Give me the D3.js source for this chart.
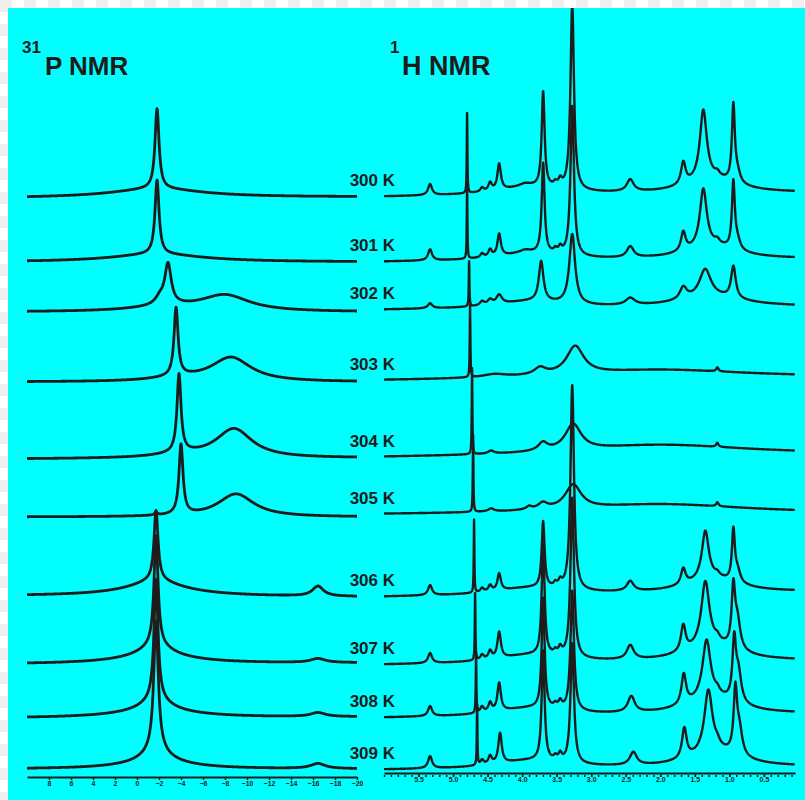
<!DOCTYPE html>
<html>
<head>
<meta charset="utf-8">
<script src="https://cdn.jsdelivr.net/npm/d3@7"></script>
<style>
  body { margin: 0; background: #fff; }
  text { font-family: "Liberation Sans", Arial, sans-serif; font-weight: bold; fill: #1e1b1b; }
</style>
</head>
<body>
<script>
// temperatures of the stacked spectra
let temps = [300, 301, 302, 303, 304, 305, 306, 307, 308, 309];

// axis tick labels (ppm)
let pTicks = [8, 6, 4, 2, 0, -2, -4, -6, -8, -10, -12, -14, -16, -18, -20];
let hTicks = [5.5, 5.0, 4.5, 4.0, 3.5, 3.0, 2.5, 2.0, 1.5, 1.0, 0.5];

// 31P spectra: baseline intensity [low-field end, high-field end], a.u.
let pBase = [[602, 603], [538, 538], [488, 488], [418, 418], [341, 342],
             [283, 283], [204, 203], [136, 137], [82, 83], [31, 31]];
// 31P peaks: [shift ppm, height a.u., half width ppm]
let pPeaks = [
  [[-1.82, 80, 0.22], [-1.82, 9, 5]],
  [[-1.82, 74, 0.22], [-1.82, 8, 5]],
  [[-2.82, 40, 0.35], [-2.09, 7, 0.5], [-8.0, 16, 2.7], [-2.5, 4, 4]],
  [[-3.55, 68, 0.22], [-8.55, 24, 2.2], [-3.8, 3, 3]],
  [[-3.82, 78, 0.22], [-8.82, 29, 2.0], [-4.0, 3, 3]],
  [[-4.0, 70, 0.22], [-9.0, 23, 2.0], [-1.73, 3, 0.15]],
  [[-1.73, 70, 0.22], [-1.73, 10, 2.5], [-1.73, 6, 5], [-16.45, 10, 0.6]],
  [[-1.73, 110, 0.22], [-1.73, 12, 1.8], [-1.73, 6, 4.5], [-16.45, 4, 0.8]],
  [[-1.73, 120, 0.22], [-1.73, 12, 1.6], [-1.73, 6, 4.5], [-16.45, 4, 0.8]],
  [[-1.73, 130, 0.25], [-1.73, 12, 1.5], [-1.73, 6, 4], [-16.45, 5, 0.8]]
];

// 1H spectra
let hBase = [[603, 607], [538, 541], [490, 493], [419, 422], [342, 345],
             [285, 286], [203, 208], [135, 139], [82, 86], [30, 33]];
let hPeaks = [
  [[5.333, 11, 0.035], [4.797, 80, 0.005], [4.58, 4, 0.03], [4.464, 8, 0.03], [4.333, 26, 0.03],
   [3.957, 3, 0.1], [3.696, 95, 0.025], [3.52, 4, 0.03], [3.449, 7, 0.03], [3.275, 185, 0.03],
   [2.435, 12, 0.06], [1.667, 22, 0.04], [1.377, 70, 0.06], [1.174, 4, 0.04], [0.942, 76, 0.025],
   [0.884, 10, 0.05], [3.9, 8, 0.6], [1.25, 14, 0.45]],
  [[5.333, 11, 0.035], [4.797, 75, 0.005], [4.58, 4, 0.03], [4.464, 7, 0.03], [4.333, 22, 0.03],
   [3.957, 3, 0.1], [3.696, 90, 0.025], [3.52, 4, 0.03], [3.449, 6, 0.03], [3.275, 150, 0.03],
   [2.435, 11, 0.06], [1.667, 19, 0.04], [1.377, 58, 0.06], [1.174, 4, 0.04], [0.942, 66, 0.025],
   [0.884, 9, 0.05], [3.9, 7, 0.6], [1.25, 13, 0.45]],
  [[5.333, 5, 0.04], [4.768, 45, 0.005], [4.58, 4, 0.04], [4.464, 5, 0.04], [4.333, 9, 0.05],
   [3.725, 40, 0.04], [3.275, 70, 0.05], [2.435, 7, 0.08], [1.667, 12, 0.06], [1.35, 28, 0.1],
   [0.942, 32, 0.04], [3.9, 7, 0.6], [1.25, 10, 0.6]],
  [[4.754, 72, 0.005], [4.4, 3, 0.2], [3.74, 7, 0.1], [3.232, 28, 0.15], [1.174, 4, 0.02],
   [2.0, 9, 1.6]],
  [[4.725, 86, 0.005], [4.45, 3, 0.05], [3.7, 8, 0.08], [3.261, 26, 0.14], [1.174, 4, 0.02],
   [2.0, 11, 1.6]],
  [[4.71, 77, 0.005], [4.45, 3, 0.05], [3.9, 3, 0.05], [3.7, 6, 0.08], [3.261, 24, 0.14],
   [1.174, 4, 0.02], [2.0, 10, 1.6]],
  [[5.333, 10, 0.035], [4.696, 73, 0.005], [4.58, 4, 0.03], [4.464, 6, 0.03], [4.333, 17, 0.03],
   [3.696, 66, 0.025], [3.52, 4, 0.03], [3.449, 6, 0.03], [3.275, 205, 0.03], [2.435, 10, 0.06],
   [1.667, 16, 0.04], [1.348, 48, 0.06], [1.174, 3, 0.04], [0.942, 50, 0.025], [0.884, 12, 0.05],
   [3.9, 7, 0.6], [1.25, 14, 0.45]],
  [[5.333, 10, 0.035], [4.681, 67, 0.005], [4.58, 5, 0.03], [4.464, 8, 0.03], [4.333, 26, 0.03],
   [3.696, 110, 0.025], [3.52, 4, 0.03], [3.449, 7, 0.03], [3.275, 160, 0.03], [2.435, 14, 0.06],
   [1.667, 26, 0.04], [1.348, 64, 0.07], [1.174, 4, 0.04], [0.942, 58, 0.03], [0.884, 28, 0.05],
   [3.9, 8, 0.6], [1.25, 16, 0.45]],
  [[5.333, 10, 0.035], [4.667, 60, 0.005], [4.58, 6, 0.03], [4.464, 9, 0.03], [4.333, 28, 0.03],
   [3.696, 110, 0.025], [3.52, 4, 0.03], [3.449, 7, 0.03], [3.275, 120, 0.03], [2.42, 16, 0.06],
   [1.66, 30, 0.04], [1.33, 58, 0.07], [1.174, 4, 0.04], [0.93, 58, 0.03], [0.87, 30, 0.05],
   [3.9, 8, 0.6], [1.25, 16, 0.45]],
  [[5.333, 12, 0.035], [4.652, 60, 0.005], [4.58, 5, 0.03], [4.464, 8, 0.03], [4.32, 30, 0.03],
   [3.696, 110, 0.025], [3.52, 4, 0.03], [3.449, 7, 0.03], [3.275, 120, 0.03], [2.39, 13, 0.06],
   [1.652, 30, 0.04], [1.304, 62, 0.07], [1.174, 4, 0.04], [0.913, 62, 0.03], [0.855, 25, 0.05],
   [3.9, 8, 0.6], [1.2, 15, 0.45]]
];

let width = 805, height = 800;

let svg = d3.select('body').append('svg')
    .attr('width', width)
    .attr('height', height);

// transparent-looking border + cyan sheet
let defs = svg.append('defs');
let pat = defs.append('pattern').attr('id', 'chk')
    .attr('width', 24).attr('height', 24).attr('patternUnits', 'userSpaceOnUse');
pat.append('rect').attr('width', 24).attr('height', 24).attr('fill', '#ffffff');
pat.append('rect').attr('width', 12).attr('height', 12).attr('fill', '#efefef');
pat.append('rect').attr('x', 12).attr('y', 12).attr('width', 12).attr('height', 12).attr('fill', '#efefef');
svg.append('rect').attr('width', width).attr('height', height).attr('fill', 'url(#chk)');
svg.append('rect').attr('x', 8).attr('y', 8)
    .attr('width', width - 8).attr('height', height - 8).attr('fill', '#00ffff');
defs.append('clipPath').attr('id', 'clip').append('rect')
    .attr('x', 8).attr('y', 8).attr('width', width - 8).attr('height', height - 8);

let xP = d3.scaleLinear().domain([10, -20]).range([27, 357]);
let xH = d3.scaleLinear().domain([6, 0.05]).range([384, 795]);
let y = d3.scaleLinear().domain([0, 800]).range([800, 0]);

// sum of lorentzian lines on a sloping baseline
function spectrum(x, base, peaks) {
    let [a, b] = x.domain();
    let n = Math.round(Math.abs(x(b) - x(a)) * 4);
    let pts = d3.range(n + 1).map(i => a + (b - a) * i / n);
    peaks.forEach(p => pts.push(p[0]));
    pts = pts.filter(v => (v - a) * (v - b) <= 0).sort((u, v) => v - u);
    return pts.map(v => {
        let t = (v - a) / (b - a);
        let s = base[0] + (base[1] - base[0]) * t;
        peaks.forEach(([c, h, w]) => { s += h * w * w / ((v - c) * (v - c) + w * w); });
        return [v, s];
    });
}

let plot = svg.append('g').attr('clip-path', 'url(#clip)');

let lineP = d3.line().x(d => xP(d[0])).y(d => y(d[1]));
let lineH = d3.line().x(d => xH(d[0])).y(d => y(d[1]));

plot.selectAll('.pspec')
    .data(temps)
    .enter().append('path')
    .attr('class', 'pspec')
    .attr('d', (d, i) => lineP(spectrum(xP, pBase[i], pPeaks[i])))
    .attr('fill', 'none')
    .attr('stroke', '#201c1c')
    .attr('stroke-width', 2.8)
    .attr('stroke-linejoin', 'round');

plot.selectAll('.hspec')
    .data(temps)
    .enter().append('path')
    .attr('class', 'hspec')
    .attr('d', (d, i) => lineH(spectrum(xH, hBase[i], hPeaks[i])))
    .attr('fill', 'none')
    .attr('stroke', '#201c1c')
    .attr('stroke-width', 2.4)
    .attr('stroke-linejoin', 'round');

// temperature labels, sitting just above each 1H trace
svg.selectAll('.tlab')
    .data(temps)
    .enter().append('text')
    .attr('class', 'tlab')
    .attr('x', 395)
    .attr('y', (d, i) => y(hBase[i][0]) - 11)
    .attr('text-anchor', 'end')
    .style('font-size', '17px')
    .text(d => d + ' K');

// axes
let axP = svg.append('g')
    .attr('transform', 'translate(0,777)')
    .call(d3.axisBottom(xP).tickValues(pTicks).tickSize(3).tickSizeOuter(0).tickPadding(1)
        .tickFormat(d3.format('d')));

let axHminor = svg.append('g')
    .attr('transform', 'translate(0,775)')
    .call(d3.axisBottom(xH).ticks(60).tickSize(2).tickSizeOuter(0).tickFormat(''));
axHminor.select('.domain').remove();

let axH = svg.append('g')
    .attr('transform', 'translate(0,773)')
    .call(d3.axisBottom(xH).tickValues(hTicks).tickSize(4).tickSizeOuter(0).tickPadding(0)
        .tickFormat(d3.format('.1f')));

[axP, axH, axHminor].forEach(ax => {
    ax.select('.domain').attr('stroke', '#201c1c').attr('stroke-width', 2);
    ax.selectAll('line').attr('stroke', '#201c1c').attr('stroke-width', 1.5);
    ax.selectAll('text').style('font-size', '7px').style('font-weight', 'bold')
        .attr('fill', '#201c1c');
});

// panel titles
let t1 = svg.append('text').attr('y', 75);
t1.append('tspan').attr('x', 22).attr('dy', -22).style('font-size', '17px').text('31');
t1.append('tspan').attr('x', 45).attr('dy', 22).style('font-size', '26px').text('P NMR');

let t2 = svg.append('text').attr('y', 75);
t2.append('tspan').attr('x', 390).attr('dy', -22).style('font-size', '17px').text('1');
t2.append('tspan').attr('x', 402).attr('dy', 22).style('font-size', '27px').text('H NMR');
</script>
</body>
</html>
